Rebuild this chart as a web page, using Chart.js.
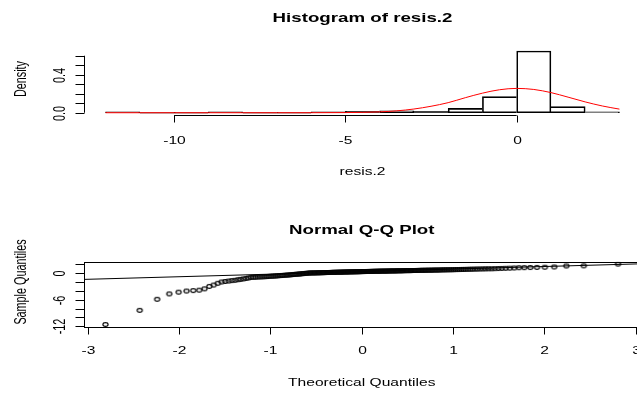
<!DOCTYPE html>
<html><head><meta charset="utf-8">
<script src="https://cdn.jsdelivr.net/npm/chart.js@4/dist/chart.umd.min.js"></script>
<style>
html,body{margin:0;padding:0;background:#fff;overflow:hidden;width:637px;height:397px;position:relative;}
#c1{position:absolute;left:0;top:0;}
#c2{position:absolute;left:0;top:198px;}
</style></head><body>
<canvas id="c1" width="645" height="198"></canvas>
<canvas id="c2" width="645" height="199"></canvas>
<script>
// ---------- Histogram of resis.2 ----------
const histTitle = "Histogram of resis.2";
const histXLabel = "resis.2";
const histYLabel = "Density";
const binCenters = [-11.5,-10.5,-9.5,-8.5,-7.5,-6.5,-5.5,-4.5,-3.5,-2.5,-1.5,-0.5,0.5,1.5,2.5];
const binDensity = [0.005,0,0,0.005,0,0,0.005,0.015,0.02,0.015,0.045,0.17,0.65,0.065,0.005];
const curveX = [-12,-11,-10,-9,-8,-7,-6,-5,-4.5,-4,-3.5,-3,-2.5,-2,-1.5,-1,-0.5,0,0.5,1,1.5,2,2.5,3];
const curveY = [0,0,0,0,0,0,0.0002,0.0015,0.004,0.009,0.02,0.039,0.068,0.106,0.158,0.206,0.242,0.256,0.245,0.212,0.164,0.114,0.071,0.038];
const histXTicks = [-10,-5,0];
const histXTickLabels = ["-10","-5","0"];
const histYTicks = [0,0.1,0.2,0.3,0.4,0.5,0.6];
const histYTickLabels = ["0.0","","","","0.4","",""];

// ---------- Normal Q-Q Plot ----------
const qqTitle = "Normal Q-Q Plot";
const qqXLabel = "Theoretical Quantiles";
const qqYLabel = "Sample Quantiles";
const qqTheoretical = [
-2.807,-2.432,-2.241,-2.108,-2.005,-1.919,-1.846,-1.780,-1.722,-1.669,-1.621,-1.576,-1.534,-1.495,-1.457,-1.422,-1.388,-1.356,-1.326,-1.296,
-1.267,-1.240,-1.213,-1.188,-1.163,-1.138,-1.115,-1.092,-1.069,-1.047,-1.026,-1.005,-0.984,-0.964,-0.944,-0.925,-0.906,-0.887,-0.868,-0.850,
-0.832,-0.815,-0.798,-0.780,-0.764,-0.747,-0.731,-0.714,-0.698,-0.682,-0.667,-0.651,-0.636,-0.620,-0.605,-0.590,-0.575,-0.561,-0.546,-0.532,
-0.517,-0.503,-0.489,-0.475,-0.461,-0.447,-0.433,-0.419,-0.406,-0.392,-0.379,-0.366,-0.352,-0.339,-0.326,-0.312,-0.299,-0.286,-0.273,-0.260,
-0.247,-0.234,-0.221,-0.208,-0.196,-0.183,-0.170,-0.157,-0.145,-0.132,-0.119,-0.107,-0.094,-0.082,-0.069,-0.056,-0.044,-0.031,-0.019,-0.006,
0.006,0.019,0.031,0.044,0.056,0.069,0.082,0.094,0.107,0.119,0.132,0.145,0.157,0.170,0.183,0.196,0.208,0.221,0.234,0.247,
0.260,0.273,0.286,0.299,0.312,0.326,0.339,0.352,0.366,0.379,0.392,0.406,0.419,0.433,0.447,0.461,0.475,0.489,0.503,0.517,
0.532,0.546,0.561,0.575,0.590,0.605,0.620,0.636,0.651,0.667,0.682,0.698,0.714,0.731,0.747,0.764,0.780,0.798,0.815,0.832,
0.850,0.868,0.887,0.906,0.925,0.944,0.964,0.984,1.005,1.026,1.047,1.069,1.092,1.115,1.138,1.163,1.188,1.213,1.240,1.267,
1.296,1.326,1.356,1.388,1.422,1.457,1.495,1.534,1.576,1.621,1.669,1.722,1.780,1.846,1.919,2.005,2.108,2.241,2.432,2.807];
const qqSample = [
-11.6,-8.4,-5.9,-4.7,-4.3,-4.05,-3.95,-3.85,-3.55,-3.0,-2.7,-2.3,-2.0,
-1.9,-1.8,-1.7,-1.62,-1.5,-1.42,-1.32,-1.2,-1.1,
-0.98,-0.95,-0.93,-0.90,-0.87,-0.85,-0.82,-0.79,-0.76,-0.73,-0.71,-0.68,-0.65,-0.62,-0.59,-0.56,-0.53,-0.50,-0.47,-0.44,
-0.41,-0.38,-0.35,-0.32,-0.29,-0.26,-0.23,-0.20,-0.17,-0.14,-0.11,-0.08,-0.05,-0.02,
0.01,0.02,0.03,0.03,0.04,0.05,0.06,0.07,0.08,0.08,0.09,0.10,0.11,0.12,
0.13,0.14,0.14,0.15,0.16,0.17,0.17,0.18,0.19,0.20,0.20,0.21,0.22,0.22,0.23,
0.24,0.24,0.25,0.26,0.27,0.27,0.28,0.29,0.29,0.30,0.31,0.31,0.32,0.32,0.33,
0.34,0.34,0.35,0.36,0.36,0.37,0.37,0.38,0.39,0.39,0.40,0.40,0.41,0.41,0.42,
0.43,0.43,0.44,0.44,0.45,0.45,0.46,0.46,0.47,0.47,0.48,0.48,0.49,0.49,0.50,
0.51,0.51,0.52,0.52,0.53,0.54,0.54,0.55,0.55,0.56,0.56,0.57,0.58,0.58,0.59,
0.60,0.60,0.61,0.62,0.62,0.63,0.64,0.64,0.65,0.66,0.66,0.67,0.68,0.68,0.69,
0.70,0.71,0.72,0.73,0.74,0.74,0.75,0.76,0.77,0.78,
0.79,0.80,0.82,0.83,0.84,0.85,0.87,0.88,
0.89,0.91,0.92,0.93,0.95,0.96,0.97,0.99,
1.02,1.05,1.08,1.11,1.15,
1.20,1.22,1.25,1.28,1.32,1.38,1.60,1.62,
2.02];
const qqLineX = [-3.1, 3.1];
const qqLineY = [-1.46, 2.11];
const qqXTicks = [-3,-2,-1,0,1,2,3];
const qqXTickLabels = ["-3","-2","-1","0","1","2","3"];
const qqYTicks = [-12,-10,-8,-6,-4,-2,0,2];
const qqYTickLabels = ["-12","","","-6","","","0",""];

// ---------- drawing helpers (R-like look: text stretched horizontally) ----------
const SX = 1.3, SY = 0.9;
const FONT = '"Liberation Sans", Arial, sans-serif';
function txt(ctx, s, x, y, size, bold, rot) {
  ctx.save();
  ctx.translate(x, y);
  ctx.scale(SX, SY);
  if (rot) ctx.rotate(-Math.PI / 2);
  ctx.font = (bold ? 'bold ' : '') + size + 'px ' + FONT;
  ctx.fillStyle = '#000';
  ctx.textAlign = 'center';
  ctx.textBaseline = 'middle';
  ctx.fillText(s, 0, 0);
  ctx.restore();
}
function seg(ctx, x1, y1, x2, y2) {
  ctx.beginPath(); ctx.moveTo(x1, y1); ctx.lineTo(x2, y2); ctx.stroke();
}
const snap = v => Math.round(v) + 0.5;

const histAxes = {
  id: 'histAxes',
  afterDraw(chart) {
    const {ctx, chartArea: a, scales: {x, y}} = chart;
    ctx.save();
    ctx.strokeStyle = '#000'; ctx.lineWidth = 1;
    const yb = snap(a.bottom);
    seg(ctx, x.getPixelForValue(histXTicks[0]), yb, x.getPixelForValue(histXTicks[histXTicks.length - 1]), yb);
    histXTicks.forEach((t, i) => {
      const px = snap(x.getPixelForValue(t));
      seg(ctx, px, yb, px, yb + 7);
      txt(ctx, histXTickLabels[i], px, yb + 26, 12, false, false);
    });
    const xl = snap(a.left) - 1;
    seg(ctx, xl, y.getPixelForValue(histYTicks[0]), xl, y.getPixelForValue(histYTicks[histYTicks.length - 1]));
    histYTicks.forEach((t, i) => {
      const py = snap(y.getPixelForValue(t));
      seg(ctx, xl, py, xl - 9, py);
      if (histYTickLabels[i]) txt(ctx, histYTickLabels[i], xl - 24, py, 12, false, true);
    });
    txt(ctx, histTitle, (a.left + a.right) / 2, 18, 14.4, true, false);
    txt(ctx, histXLabel, (a.left + a.right) / 2, yb + 57, 12, false, false);
    txt(ctx, histYLabel, 22, 79, 12, false, true);
    ctx.restore();
  }
};

const qqAxes = {
  id: 'qqAxes',
  afterDraw(chart) {
    const {ctx, chartArea: a, scales: {x, y}} = chart;
    ctx.save();
    ctx.strokeStyle = '#000'; ctx.lineWidth = 1;
    const L = snap(a.left) - 1, R = snap(a.right), T = snap(a.top), B = snap(a.bottom);
    ctx.strokeRect(L, T, R - L, B - T);
    seg(ctx, x.getPixelForValue(qqXTicks[0]), B, x.getPixelForValue(qqXTicks[qqXTicks.length - 1]), B);
    qqXTicks.forEach((t, i) => {
      const px = snap(x.getPixelForValue(t));
      seg(ctx, px, B, px, B + 7);
      txt(ctx, qqXTickLabels[i], px, B + 24, 12, false, false);
    });
    seg(ctx, L, y.getPixelForValue(qqYTicks[0]), L, y.getPixelForValue(qqYTicks[qqYTicks.length - 1]));
    qqYTicks.forEach((t, i) => {
      const py = snap(y.getPixelForValue(t));
      seg(ctx, L, py, L - 9, py);
      if (qqYTickLabels[i]) txt(ctx, qqYTickLabels[i], L - 24, py, 12, false, true);
    });
    txt(ctx, qqTitle, (a.left + a.right) / 2, 32, 14.4, true, false);
    txt(ctx, qqXLabel, (a.left + a.right) / 2, B + 56, 12, false, false);
    txt(ctx, qqYLabel, 22, 84, 12, false, true);
    ctx.restore();
  }
};

function ringImage() {
  const c = document.createElement('canvas');
  c.width = 9; c.height = 7;
  const g = c.getContext('2d');
  g.strokeStyle = '#000'; g.lineWidth = 1.15;
  g.beginPath(); g.ellipse(4.5, 3.5, 2.6, 1.9, 0, 0, Math.PI * 2); g.stroke();
  return c;
}

const common = {
  responsive: false, animation: false, events: [],
  plugins: {legend: {display: false}, tooltip: {enabled: false}, title: {display: false}}
};

new Chart(document.getElementById('c1'), {
  type: 'bar',
  data: {
    datasets: [
      {
        type: 'line',
        data: curveX.map((v, i) => ({x: v, y: curveY[i]})),
        borderColor: '#ff0000', borderWidth: 1, pointRadius: 0,
        cubicInterpolationMode: 'monotone', fill: false
      },
      {
        type: 'bar',
        data: binCenters.map((v, i) => ({x: v, y: binDensity[i]})),
        backgroundColor: 'rgba(0,0,0,0)', borderColor: '#000',
        borderSkipped: false, barPercentage: 1, categoryPercentage: 1,
        minBarLength: 1,
        borderWidth: (c) => {
          const i = c.dataIndex, d = binDensity;
          const h = d[i];
          const hl = i > 0 ? d[i - 1] : -1;
          const hr = i < d.length - 1 ? d[i + 1] : -1;
          return {top: 1, bottom: 1, left: h >= hl ? 1 : 0, right: h > hr ? 1 : 0};
        }
      }
    ]
  },
  options: Object.assign({}, common, {
    layout: {padding: {left: 85, right: 5, top: 48.5, bottom: 82.8}},
    scales: {
      x: {type: 'linear', min: -12.6, max: 3.6, offset: false, display: false},
      y: {type: 'linear', min: -0.026, max: 0.676, display: false}
    }
  }),
  plugins: [histAxes]
});

new Chart(document.getElementById('c2'), {
  type: 'scatter',
  data: {
    datasets: [
      {
        type: 'line',
        data: qqLineX.map((v, i) => ({x: v, y: qqLineY[i]})),
        borderColor: '#000', borderWidth: 1, pointRadius: 0, fill: false
      },
      {
        type: 'scatter',
        data: qqTheoretical.map((v, i) => ({x: v, y: qqSample[i]})),
        pointStyle: ringImage(), pointRadius: 3,
        borderColor: '#000', backgroundColor: 'rgba(0,0,0,0)'
      }
    ]
  },
  options: Object.assign({}, common, {
    layout: {padding: {left: 85, right: 6.5, top: 63.7, bottom: 70}},
    scales: {
      x: {type: 'linear', min: -3.031, max: 3.031, display: false},
      y: {type: 'linear', min: -12.15, max: 2.56, display: false}
    }
  }),
  plugins: [qqAxes]
});
</script>
</body></html>
